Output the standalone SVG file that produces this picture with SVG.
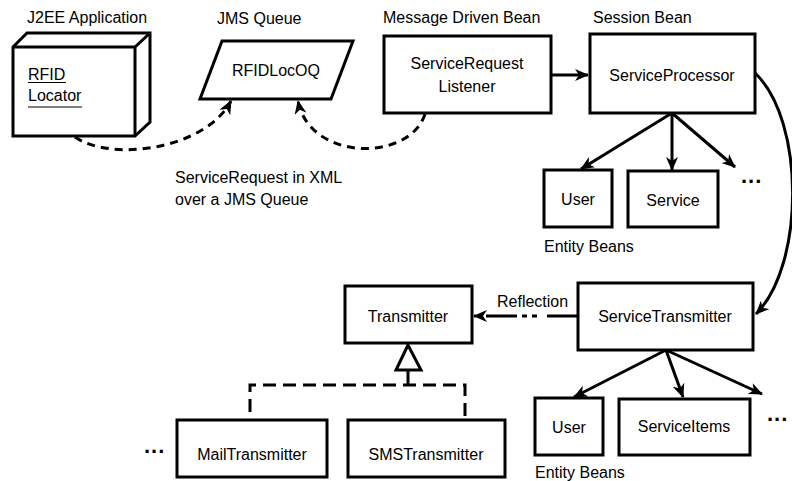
<svg xmlns="http://www.w3.org/2000/svg" width="792" height="481" viewBox="0 0 792 481">
  <style>
    text { font-family: "Liberation Sans", Arial, sans-serif; font-size: 16px; fill: #000; }
    .mid { text-anchor: middle; }
    .box { fill: #fff; stroke: #000; stroke-width: 3; }
    .line { fill: none; stroke: #000; stroke-width: 3; }
    .dots { font-size: 22px; font-weight: bold; letter-spacing: 1px; }
  </style>
  <defs>
    <marker id="arrow" markerUnits="userSpaceOnUse" markerWidth="14" markerHeight="12" refX="13" refY="6" orient="auto">
      <path d="M0,0 L14,6 L0,12 L4,6 z" fill="#000"/>
    </marker>
  </defs>

  <!-- connectors -->
  <g id="connectors">
    <path class="line" d="M551 75 L588 75" marker-end="url(#arrow)"/>
    <path class="line" stroke-dasharray="8 6" d="M75 137 C110 162, 205 150, 231 101" marker-end="url(#arrow)"/>
    <path class="line" stroke-dasharray="8 6" d="M425 114 C410 162, 310 162, 298 101" marker-end="url(#arrow)"/>
    <path class="line" d="M755 73 C805 120, 805 265, 756 314" marker-end="url(#arrow)"/>
    <path class="line" d="M672 113 L581 169" marker-end="url(#arrow)"/>
    <path class="line" d="M672 113 L672 170" marker-end="url(#arrow)"/>
    <path class="line" d="M672 113 L735 167" marker-end="url(#arrow)"/>
    <path class="line" d="M666 350 L574 397" marker-end="url(#arrow)"/>
    <path class="line" d="M666 350 L683 397" marker-end="url(#arrow)"/>
    <path class="line" d="M666 350 L762 394" marker-end="url(#arrow)"/>
    <path class="line" stroke-dasharray="31 10 5 5 5 5" d="M578 316 L474 316" marker-end="url(#arrow)"/>
    <text x="497" y="307">Reflection</text>
    <polygon class="box" points="408,345 396,370 421,370"/>
    <path class="line" d="M408 370 L408 385"/>
    <path class="line" stroke-dasharray="13 7" d="M250 412 L250 385 L465 385 L465 420"/>
  </g>

  <g id="j2ee-app">
    <text x="27" y="23">J2EE Application</text>
    <path class="box" d="M13 47 L27 33 L150 33 L150 122 L135 136 L13 136 Z"/>
    <path class="line" d="M13 47 L135 47 L150 33 M135 47 L135 136"/>
    <text x="28" y="80">RFID</text>
    <path d="M28 82.5 L66 82.5" stroke="#000" stroke-width="1.2"/>
    <text x="28" y="101">Locator</text>
    <path d="M28 107 L82 107" stroke="#000" stroke-width="1.2"/>
  </g>

  <g id="jms-queue">
    <text x="217" y="24">JMS Queue</text>
    <polygon class="box" points="222,41 353,41 331,99 200,99"/>
    <text class="mid" x="276" y="76">RFIDLocOQ</text>
  </g>

  <g id="listener">
    <text x="383" y="23">Message Driven Bean</text>
    <rect class="box" x="384" y="36" width="167" height="77"/>
    <text class="mid" x="467" y="69">ServiceRequest</text>
    <text class="mid" x="467" y="92">Listener</text>
  </g>

  <g id="processor">
    <text x="593" y="23">Session Bean</text>
    <rect class="box" x="590" y="34" width="165" height="79"/>
    <text class="mid" x="672" y="81">ServiceProcessor</text>
  </g>

  <g id="user-1">
    <rect class="box" x="544" y="170" width="68" height="57"/>
    <text class="mid" x="578" y="205">User</text>
  </g>
  <g id="service">
    <rect class="box" x="628" y="171" width="90" height="56"/>
    <text class="mid" x="673" y="206">Service</text>
  </g>
  <text class="dots" x="741" y="183">...</text>
  <text x="544" y="252">Entity Beans</text>

  <g id="service-transmitter">
    <rect class="box" x="578" y="283" width="175" height="67"/>
    <text class="mid" x="665" y="322">ServiceTransmitter</text>
  </g>

  <g id="transmitter">
    <rect class="box" x="345" y="286" width="127" height="57"/>
    <text class="mid" x="408" y="322">Transmitter</text>
  </g>

  <g id="mail-transmitter">
    <rect class="box" x="177" y="420" width="150" height="57"/>
    <text class="mid" x="252" y="460">MailTransmitter</text>
  </g>
  <g id="sms-transmitter">
    <rect class="box" x="348" y="420" width="157" height="57"/>
    <text class="mid" x="426" y="460">SMSTransmitter</text>
  </g>
  <text class="dots" x="144" y="453">...</text>

  <g id="user-2">
    <rect class="box" x="535" y="398" width="68" height="57"/>
    <text class="mid" x="569" y="433">User</text>
  </g>
  <g id="service-items">
    <rect class="box" x="619" y="399" width="131" height="56"/>
    <text class="mid" x="684" y="432">ServiceItems</text>
  </g>
  <text class="dots" x="767" y="421">...</text>
  <text x="535" y="478">Entity Beans</text>

  <text x="175" y="183">ServiceRequest in XML</text>
  <text x="175" y="205">over a JMS Queue</text>
</svg>
